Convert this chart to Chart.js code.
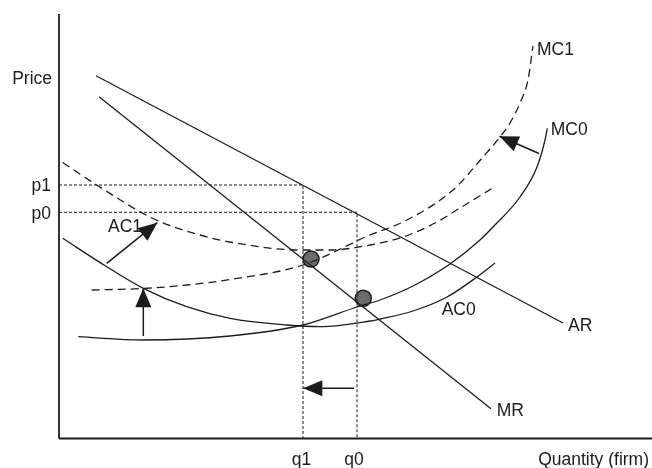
<!DOCTYPE html>
<html>
<head>
<meta charset="utf-8">
<script src="https://cdn.jsdelivr.net/npm/chart.js@4/dist/chart.umd.min.js"></script>
<style>
  html, body { margin: 0; padding: 0; background: #fff; }
  #wrap { width: 652px; height: 468px; }
</style>
</head>
<body>
<div id="wrap"><canvas id="chart"></canvas></div>
<script>
// curves as [quantity, price] pairs
const AR  = [[37, 362.8], [504, 115.5]];
const MR  = [[40, 341.8], [432, 29.8]];
const AC0 = [[3.7, 200.2], [47.7, 171.8], [84.3, 150.2], [127.7, 131.8], [171, 120.2],
             [228, 113.5], [261, 111.8], [311, 117.5], [321, 119.5], [354, 127.5],
             [388, 141.5], [418, 161.5], [436, 175.5]];
const AC1 = [[3.7, 276], [37.7, 253.5], [81, 226.8], [101, 216.8], [141, 203.5],
             [171, 196.5], [241, 188.5], [271, 188.5], [311, 193.5], [344, 201.5],
             [378, 216.5], [401, 230.5], [433, 250]];
const MC0 = [[19.3, 101.8], [84, 98.5], [171, 102.5], [244, 113.5], [298, 131.5],
             [321, 138.5], [354, 152.5], [391, 174.5], [421, 198.5], [434, 211.5],
             [461, 241.5], [478, 271.5], [486, 298.5], [488.3, 310.2]];
const MC1 = [[32.7, 148.5], [84, 150], [128, 153.5], [171, 159], [244, 173.5],
             [311, 203.5], [344, 216.5], [394, 248.5], [424, 281.5], [441, 301.5],
             [451, 315.5], [461, 335.5], [469, 358.5], [474, 392.5]];

// equilibrium markers
const equilibria = [[252, 179.5], [304.3, 140.2]];

// tick levels
const priceLabels = ["p1", "p0"];
const priceLevels = [253.5, 226.2];
const qtyLabels = ["q1", "q0"];
const qtyLevels = [244, 298];

// shift arrows: tail -> tip
const arrowTails = [[47.7, 175.2], [84.3, 102.5], [295, 50.2], [480, 285]];
const arrowTips  = [[98.3, 215.8], [84.3, 150.2], [244.3, 50.2], [440.5, 302.3]];

const X_MAX = 593, Y_MAX = 424.5;

const pts = (arr) => arr.map(([x, y]) => ({ x, y }));
const INK = "#1c1c1c";

function curve(data, dashed) {
  return {
    data: pts(data), showLine: true, pointRadius: 0, borderColor: INK,
    borderWidth: 1.3, borderDash: dashed ? [8, 5] : [],
    cubicInterpolationMode: "monotone", tension: 0.4,
  };
}
function straight(data, dash, width) {
  return {
    data: pts(data), showLine: true, pointRadius: 0, borderColor: INK,
    borderWidth: width || 1.2, borderDash: dash || [], tension: 0, clip: false,
  };
}

const datasets = [
  straight([[0, 0], [X_MAX, 0]], [], 1.8),
  straight([[0, 0], [0, Y_MAX]], [], 1.8),
];
priceLevels.forEach((p, i) => {
  datasets.push(straight([[0, p], [qtyLevels[i], p], [qtyLevels[i], 0]], [3, 2], 1));
});
datasets.push(curve(AC1, true), curve(MC1, true), curve(AC0, false), curve(MC0, false));
datasets.push(straight(AR, [], 1.3), straight(MR, [], 1.3));
arrowTails.forEach((t, i) => datasets.push(straight([t, arrowTips[i]], [], 1.5)));
datasets.push({
  data: pts(equilibria), showLine: false, pointRadius: 8, pointHoverRadius: 8,
  backgroundColor: "#6b6b6b", borderColor: INK, borderWidth: 1.5,
});

// text placement (data units, y = baseline)
const texts = [
  { t: "Price", x: -7, y: 354.5, a: "right" },
  { t: priceLabels[0], x: -8, y: 247.2, a: "right" },
  { t: priceLabels[1], x: -8, y: 219.9, a: "right" },
  { t: qtyLabels[0], x: qtyLevels[0] - 1.5, y: -26.5, a: "center" },
  { t: qtyLabels[1], x: qtyLevels[1] - 3, y: -26.5, a: "center" },
  { t: "Quantity (firm)", x: 590, y: -26.5, a: "right" },
  { t: "AC1", x: 49, y: 206.8, a: "left" },
  { t: "AC0", x: 382.7, y: 123.5, a: "left" },
  { t: "AR", x: 509, y: 107.8, a: "left" },
  { t: "MR", x: 437.7, y: 22.5, a: "left" },
  { t: "MC1", x: 478, y: 383.5, a: "left" },
  { t: "MC0", x: 491.7, y: 303.5, a: "left" },
];

const overlay = {
  id: "overlay",
  afterDatasetsDraw(chart) {
    const { ctx, scales: { x, y } } = chart;
    ctx.save();
    ctx.fillStyle = INK;
    arrowTails.forEach((t, i) => {
      const x1 = x.getPixelForValue(t[0]), y1 = y.getPixelForValue(t[1]);
      const x2 = x.getPixelForValue(arrowTips[i][0]), y2 = y.getPixelForValue(arrowTips[i][1]);
      const a = Math.atan2(y2 - y1, x2 - x1), L = 19, W = 8;
      ctx.beginPath();
      ctx.moveTo(x2, y2);
      ctx.lineTo(x2 - L * Math.cos(a) + W * Math.sin(a), y2 - L * Math.sin(a) - W * Math.cos(a));
      ctx.lineTo(x2 - L * Math.cos(a) - W * Math.sin(a), y2 - L * Math.sin(a) + W * Math.cos(a));
      ctx.closePath();
      ctx.fill();
    });
    ctx.font = '17.5px "Liberation Sans", Arial, sans-serif';
    ctx.textBaseline = "alphabetic";
    texts.forEach((s) => {
      ctx.textAlign = s.a;
      ctx.fillText(s.t, x.getPixelForValue(s.x), y.getPixelForValue(s.y));
    });
    ctx.restore();
  },
};

new Chart(document.getElementById("chart").getContext("2d"), {
  type: "scatter",
  data: { datasets },
  options: {
    responsive: true,
    maintainAspectRatio: false,
    animation: false,
    layout: { autoPadding: false, padding: { left: 59, right: 0, top: 14, bottom: 29.5 } },
    plugins: { legend: { display: false }, tooltip: { enabled: false } },
    scales: {
      x: { type: "linear", min: 0, max: X_MAX, display: false },
      y: { type: "linear", min: 0, max: Y_MAX, display: false },
    },
  },
  plugins: [overlay],
});
</script>
</body>
</html>
